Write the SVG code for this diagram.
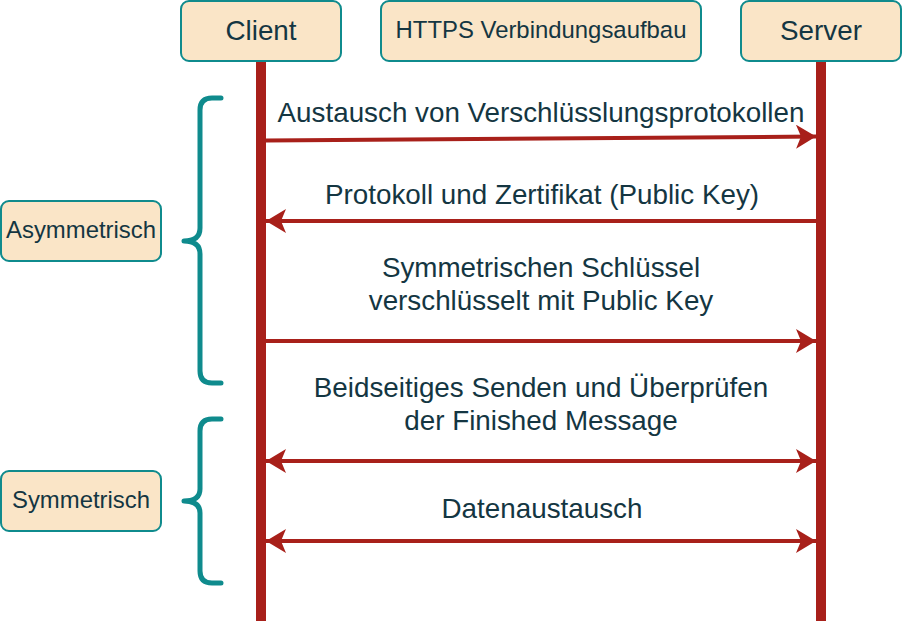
<svg xmlns="http://www.w3.org/2000/svg" width="902" height="628" viewBox="0 0 902 628">
<style>
.box{fill:#FAE5C7;stroke:#0F8B8D;stroke-width:2}
.t{font-family:"Liberation Sans",Arial,Helvetica,sans-serif;fill:#143642;text-anchor:middle}
.big{font-size:27.8px}
.small{font-size:23.9px}
.life{stroke:#A8201A;stroke-width:10;fill:none}
.msg{stroke:#A8201A;stroke-width:4;fill:none}
.brace{stroke:#0F8B8D;stroke-width:5;fill:none;stroke-linejoin:round;stroke-linecap:round}
</style>
<defs>
<marker id="ah" viewBox="0 0 20 24" refX="20" refY="12" markerWidth="20" markerHeight="24" markerUnits="userSpaceOnUse" orient="auto-start-reverse">
<path d="M20,12 L0,0 L5,12 L0,24 Z" fill="#A8201A"/>
</marker>
</defs>
<rect width="902" height="628" fill="#ffffff"/>
<g id="lifelines">
<line class="life" x1="261" y1="61" x2="261" y2="621"/>
<line class="life" x1="821" y1="61" x2="821" y2="621"/>
</g>
<g id="client">
<rect class="box" x="181" y="1" width="160" height="60" rx="8"/>
<text class="t big" x="261" y="40">Client</text>
</g>
<g id="https">
<rect class="box" x="381" y="1" width="320" height="60" rx="8"/>
<text class="t small" x="541" y="37.5">HTTPS Verbindungsaufbau</text>
</g>
<g id="server">
<rect class="box" x="741" y="1" width="160" height="60" rx="8"/>
<text class="t big" x="821" y="40">Server</text>
</g>
<g id="asym">
<rect class="box" x="1" y="201" width="160" height="60" rx="8"/>
<text class="t small" x="81" y="238">Asymmetrisch</text>
</g>
<g id="sym">
<rect class="box" x="1" y="471" width="160" height="60" rx="8"/>
<text class="t small" x="81" y="508">Symmetrisch</text>
</g>
<g id="braces">
<path class="brace" d="M221,98 H212 Q200,98 200,110 V228 Q200,241 184,241 Q200,241 200,254 V371 Q200,383 212,383 H221"/>
<path class="brace" d="M221,419 H212 Q200,419 200,431 V489 Q200,501 184,501 Q200,501 200,513 V571 Q200,583 212,583 H221"/>
</g>
<g id="connectors">
<line class="msg" x1="266" y1="140.5" x2="816" y2="136.5" marker-end="url(#ah)"/>
<line class="msg" x1="816" y1="221" x2="266" y2="221" marker-end="url(#ah)"/>
<line class="msg" x1="266" y1="341" x2="816" y2="341" marker-end="url(#ah)"/>
<line class="msg" x1="266" y1="461" x2="816" y2="461" marker-start="url(#ah)" marker-end="url(#ah)"/>
<line class="msg" x1="266" y1="541" x2="816" y2="541" marker-start="url(#ah)" marker-end="url(#ah)"/>
</g>
<g id="labels">
<text class="t big" x="541" y="122">Austausch von Verschlüsslungsprotokollen</text>
<text class="t big" x="542" y="204">Protokoll und Zertifikat (Public Key)</text>
<text class="t big" x="541" y="276.5">Symmetrischen Schlüssel</text>
<text class="t big" x="541" y="310">verschlüsselt mit Public Key</text>
<text class="t big" x="541" y="396.5">Beidseitiges Senden und Überprüfen</text>
<text class="t big" x="541" y="430">der Finished Message</text>
<text class="t big" x="542" y="518">Datenaustausch</text>
</g>
</svg>
